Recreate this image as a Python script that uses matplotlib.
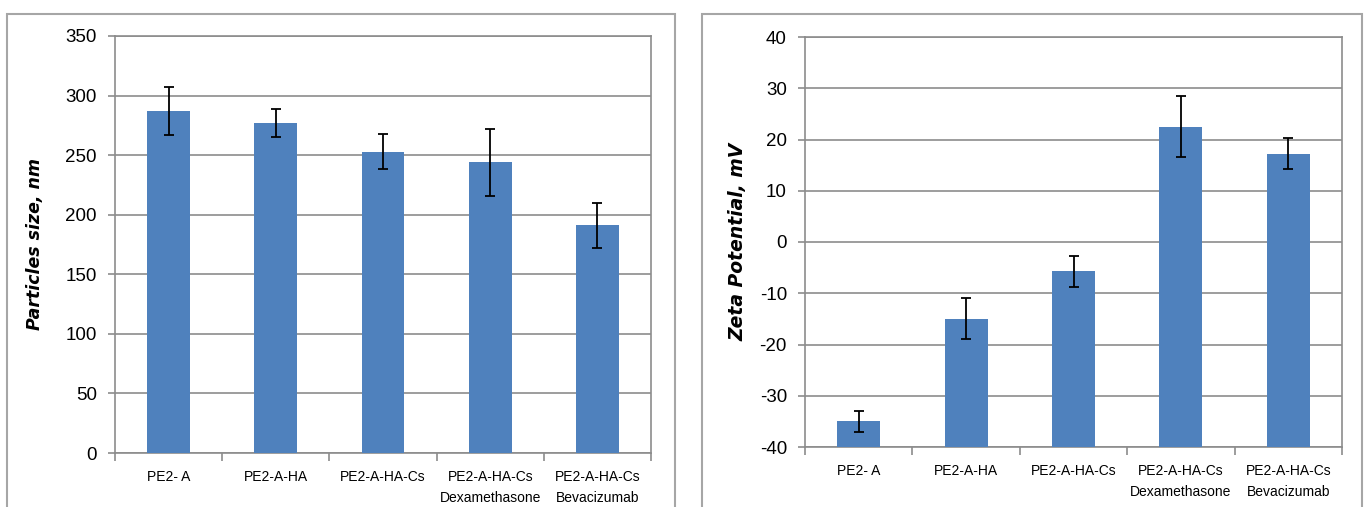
import numpy as np
import matplotlib.pyplot as plt
from matplotlib.patches import Rectangle

categories = ["PE2- A", "PE2-A-HA", "PE2-A-HA-Cs", "PE2-A-HA-Cs\nDexamethasone", "PE2-A-HA-Cs\nBevacizumab"]
size_nm = [287, 277, 253, 244, 191]
size_err = [20, 12, 15, 28, 19]
zeta_mv = [-35.0, -15.0, -5.7, 22.5, 17.2]
zeta_err = [2.0, 4.0, 3.0, 6.0, 3.0]

BAR = "#4F81BD"
GRID = "#8C8C8C"

plt.rcParams['font.family'] = ['Liberation Sans', 'DejaVu Sans']
plt.rcParams['axes.unicode_minus'] = False

fig = plt.figure(figsize=(13.65, 5.07), dpi=100)
W, H = 1365, 507

# outer chart frames
for x0, x1 in [(7, 675), (702, 1362)]:
    fig.patches.append(Rectangle((x0 / W, -0.05), (x1 - x0) / W, (H - 14) / H + 0.05,
                                 transform=fig.transFigure, fill=False,
                                 edgecolor="#A6A6A6", linewidth=1.5))


def panel(box, values, errs, ylim, step, ylabel, label_x, label_size):
    l, t, r, b = box
    ax = fig.add_axes([l / W, 1 - b / H, (r - l) / W, (b - t) / H])
    x = np.arange(len(values))
    base = ylim[0]
    ax.bar(x, np.array(values) - base, bottom=base, width=0.4, color=BAR, zorder=3)
    ax.errorbar(x, values, yerr=errs, fmt="none", ecolor="black",
                elinewidth=1.3, capsize=3.3, capthick=1.3, zorder=4)
    ax.set_xlim(-0.5, len(values) - 0.5)
    ax.set_ylim(*ylim)
    ax.set_yticks(np.arange(ylim[0], ylim[1] + step / 2, step))
    ax.yaxis.grid(True, color=GRID, linewidth=1.2, zorder=0)
    for s in ax.spines.values():
        s.set_color(GRID)
        s.set_linewidth(1.2)
    ax.set_xticks(x)
    ax.set_xticklabels(categories, fontsize=10, linespacing=1.65)
    ax.tick_params(axis="x", length=0, pad=12)
    ax.set_xticks(np.arange(-0.5, len(values)), minor=True)
    ax.tick_params(axis="x", which="minor", length=6, color=GRID, width=1.2)
    ax.tick_params(axis="y", length=5, color=GRID, width=1.2, labelsize=13.5, pad=8)
    ax.set_ylabel(ylabel, fontsize=label_size, fontweight="bold", style="italic",
                  family="DejaVu Sans")
    ax.yaxis.set_label_coords((label_x - l) / (r - l), 0.5)
    return ax


panel((115, 36, 651, 453), size_nm, size_err, (0, 350), 50, "Particles size, nm", 44, 12.5)
panel((805, 37, 1342, 447), zeta_mv, zeta_err, (-40, 40), 10, "Zeta Potential, mV", 747, 13.5)

fig.savefig("out.png", dpi=100)
